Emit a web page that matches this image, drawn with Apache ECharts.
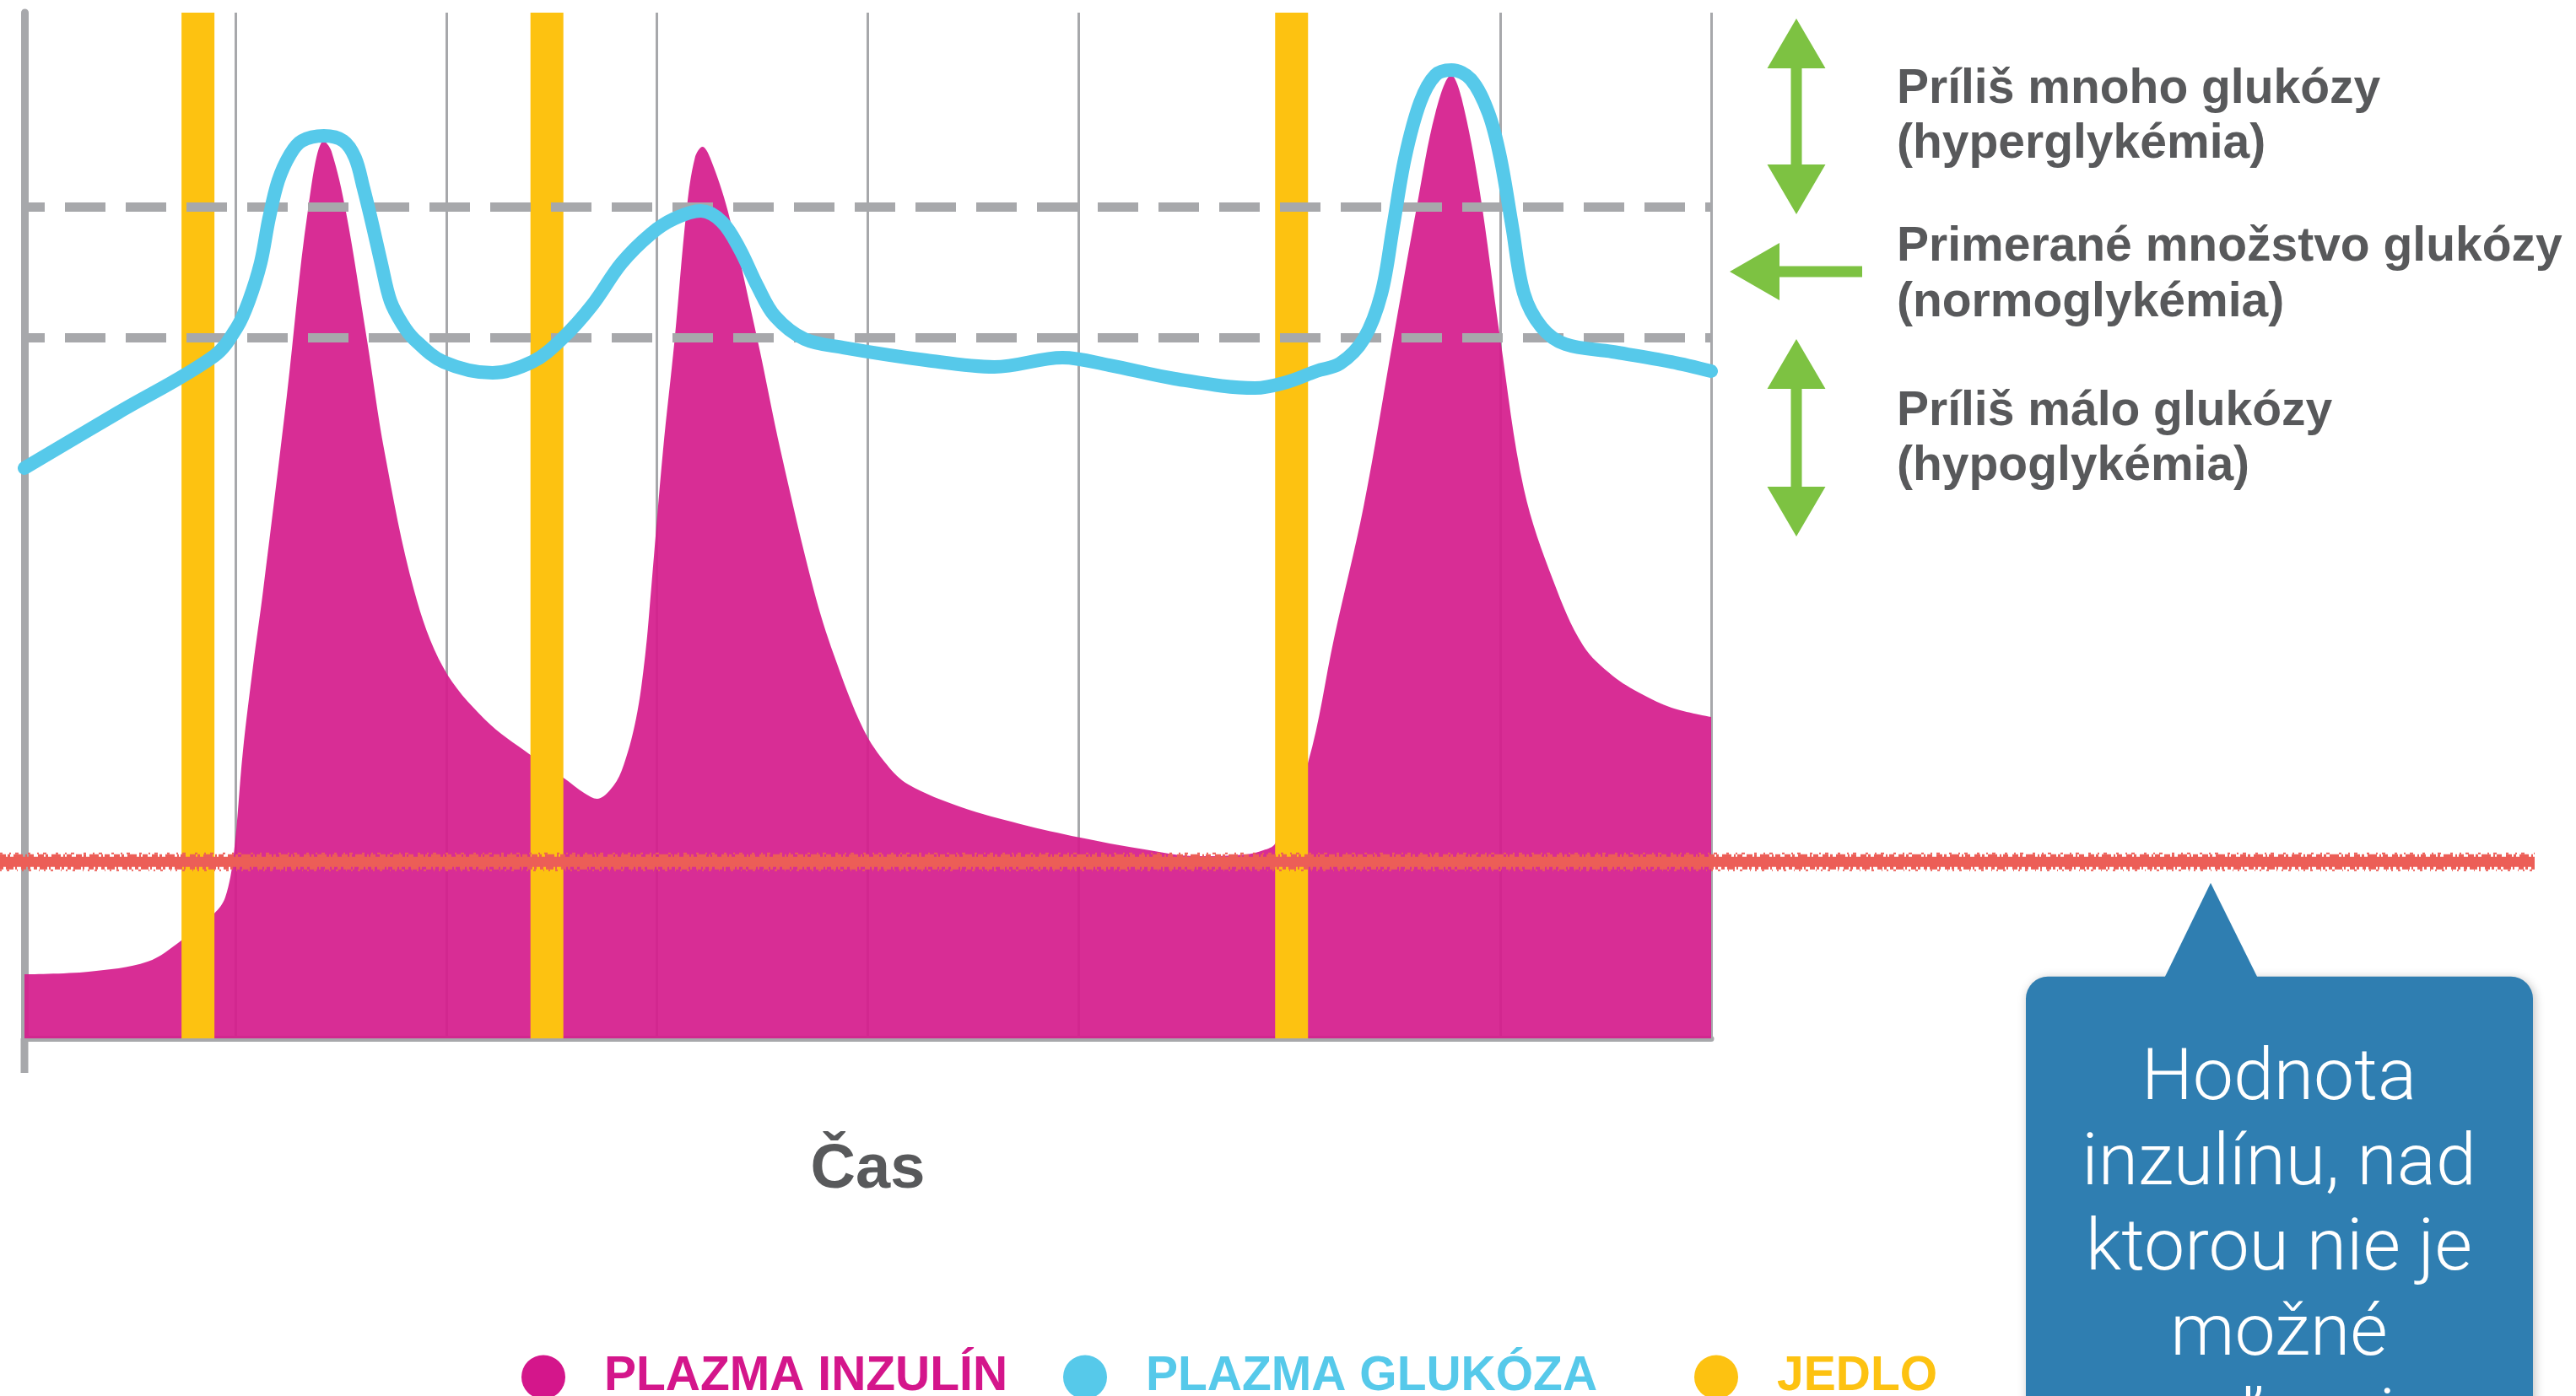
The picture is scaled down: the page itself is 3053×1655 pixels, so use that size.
<!DOCTYPE html>
<html>
<head>
<meta charset="utf-8">
<script src="https://cdn.jsdelivr.net/npm/echarts@6/dist/echarts.min.js"></script>
<style>
html,body{margin:0;padding:0;background:#ffffff;}
#chart{width:3053px;height:1655px;}
</style>
</head>
<body>
<div id="chart"></div>
<script>
// ---- data (time in arbitrary units 0..8, level in arbitrary units 0..100) ----
const xMin = 0, xMax = 8, yMin = 0, yMax = 100;
const mealTimes = [0.823, 2.478, 6.01];
const hyperLimit = 81.1;     // upper dashed line
const hypoLimit = 68.3;      // lower dashed line
const insulinLimit = 17.2;   // red threshold line

const insulinTime = [0, 0.304, 0.584, 0.744, 0.9, 0.952, 0.992, 1.036, 1.084, 1.132, 1.244, 1.344, 1.42, 1.456, 1.524, 1.624, 1.708, 1.848, 1.988, 2.184, 2.4, 2.556, 2.66, 2.716, 2.776, 2.832, 2.9, 2.944, 2.972, 3.028, 3.084, 3.14, 3.18, 3.216, 3.252, 3.336, 3.476, 3.588, 3.744, 3.84, 3.98, 4.092, 4.192, 4.444, 4.724, 5.008, 5.288, 5.568, 5.792, 5.876, 5.932, 6.088, 6.212, 6.352, 6.492, 6.604, 6.692, 6.768, 6.816, 6.9, 7.0, 7.112, 7.252, 7.392, 7.532, 7.672, 7.812, 8];
const insulinLevel = [6.25, 6.5, 7.48, 9.54, 12.17, 13.73, 17.85, 27.96, 36.27, 43.67, 62.58, 80.67, 87.5, 86.5, 80.67, 68.17, 57.15, 43.67, 36.1, 31.09, 27.63, 25.41, 23.85, 23.36, 24.18, 26.07, 31.09, 37.34, 43.67, 57.15, 68.17, 80.67, 85.86, 86.92, 85.86, 80.67, 68.17, 57.15, 43.67, 37.34, 30.1, 26.64, 24.75, 22.53, 20.89, 19.57, 18.5, 17.76, 17.93, 18.34, 19.0, 26.89, 39.06, 51.89, 68.17, 81.09, 90.21, 93.91, 91.69, 82.89, 68.17, 53.54, 44.57, 38.32, 35.36, 33.55, 32.24, 31.33];

const glucoseTime = [0, 0.444, 0.9, 1.008, 1.064, 1.12, 1.16, 1.204, 1.26, 1.316, 1.42, 1.512, 1.568, 1.608, 1.652, 1.692, 1.736, 1.792, 1.848, 1.988, 2.22, 2.408, 2.548, 2.692, 2.832, 2.972, 3.084, 3.208, 3.308, 3.392, 3.476, 3.56, 3.7, 3.884, 4.276, 4.6, 4.924, 5.148, 5.456, 5.836, 5.988, 6.128, 6.24, 6.352, 6.436, 6.492, 6.548, 6.62, 6.692, 6.768, 6.86, 6.944, 7.0, 7.056, 7.112, 7.196, 7.308, 7.532, 7.812, 8];
const glucoseLevel = [55.6, 61.0, 66.53, 69.33, 71.88, 75.58, 79.93, 83.63, 86.18, 87.5, 87.99, 87.5, 85.86, 82.89, 79.19, 75.58, 71.88, 69.65, 68.17, 65.95, 64.88, 65.95, 68.17, 71.46, 75.58, 78.45, 79.93, 80.67, 79.61, 76.97, 73.36, 70.39, 68.17, 67.35, 66.12, 65.46, 66.37, 65.62, 64.31, 63.4, 63.98, 65.05, 65.79, 68.17, 72.62, 79.19, 85.86, 91.28, 93.91, 94.41, 93.5, 90.21, 85.86, 79.19, 72.62, 69.33, 67.68, 66.94, 65.95, 65.05];

const seriesNames = ['PLAZMA INZULÍN', 'PLAZMA GLUKÓZA', 'JEDLO'];
const rangeLabels = [
  ['Príliš mnoho glukózy', '(hyperglykémia)'],
  ['Primerané množstvo glukózy', '(normoglykémia)'],
  ['Príliš málo glukózy', '(hypoglykémia)']
];
const xAxisName = 'Čas';
const calloutLines = ['Hodnota', 'inzulínu, nad', 'ktorou nie je', 'možné', 'uvoľnenie'];

// ---- styles ----
const C = {
  insulin: '#d51d8d', insulinLegend: '#d4168b',
  glucose: '#56c9ea', meal: '#fdc211', grey: '#a7a8ab',
  red: '#ec5e57', green: '#7dc242', text: '#58595b', callout: '#2f7eb1'
};
const BOLD = 'Liberation Sans, Arial, sans-serif';

const chart = echarts.init(document.getElementById('chart'), null, {renderer: 'canvas', width: 3053, height: 1655});

function legendAt(name, left, color) {
  return {
    data: [{name: name, itemStyle: {color: color}}],
    left: left, top: 1599,
    icon: 'circle', itemWidth: 52, itemHeight: 52,
    selectedMode: false,
    textStyle: {color: color, fontSize: 57, fontWeight: 'bold', fontFamily: BOLD, padding: [0, 0, 0, 41]}
  };
}

const option = {
  backgroundColor: '#ffffff',
  animation: false,
  grid: {left: 29, right: 1025, top: 15, bottom: 424, containLabel: false},
  legend: [
    legendAt(seriesNames[0], 613, C.insulinLegend),
    legendAt(seriesNames[1], 1255, C.glucose),
    legendAt(seriesNames[2], 2003, C.meal)
  ],
  xAxis: {
    type: 'value', min: xMin, max: xMax, interval: 1,
    name: xAxisName, nameLocation: 'middle', nameGap: 120,
    nameTextStyle: {color: C.text, fontSize: 74, fontWeight: 'bold', fontFamily: BOLD},
    axisLine: {show: true, onZero: false, lineStyle: {color: C.grey, width: 7}},
    axisTick: {show: false}, axisLabel: {show: false},
    splitLine: {show: true, lineStyle: {color: C.grey, width: 3}}
  },
  yAxis: {
    type: 'value', min: yMin, max: yMax,
    axisLine: {show: true, lineStyle: {color: C.grey, width: 9}},
    axisTick: {show: false}, axisLabel: {show: false}, splitLine: {show: false}
  },
  series: [
    {
      name: seriesNames[0], type: 'line', z: 2,
      data: insulinTime.map((t, i) => [t, insulinLevel[i]]),
      smooth: 0.35, showSymbol: false, symbol: 'none',
      lineStyle: {width: 0}, itemStyle: {color: C.insulinLegend},
      areaStyle: {color: C.insulin, opacity: 0.93}
    },
    {
      name: seriesNames[2], type: 'bar', z: 3,
      data: mealTimes.map(t => [t, yMax]),
      barWidth: 39, itemStyle: {color: C.meal}
    },
    {
      name: seriesNames[1], type: 'line', z: 6,
      data: glucoseTime.map((t, i) => [t, glucoseLevel[i]]),
      smooth: 0.35, showSymbol: false, symbol: 'none',
      itemStyle: {color: C.glucose},
      lineStyle: {color: C.glucose, width: 16, cap: 'round', join: 'round'},
      markLine: {
        z: 4, silent: true, symbol: ['none', 'none'], label: {show: false},
        lineStyle: {color: C.grey, width: 11, type: [48, 24], dashOffset: 24},
        emphasis: {disabled: true},
        data: [{yAxis: hyperLimit}, {yAxis: hypoLimit}]
      }
    }
  ]
};
chart.setOption(option);

// ---- annotations positioned from the axes ----
const origin = chart.convertToPixel({gridIndex: 0}, [xMin, yMin]);
const yRed = chart.convertToPixel({yAxisIndex: 0}, insulinLimit);

const g = [];
// y axis stub below the x axis
g.push({type: 'rect', z: 1, shape: {x: origin[0] - 4.5, y: origin[1], width: 9, height: 41}, style: {fill: C.grey}});

// rough red threshold line
g.push({type: 'line', z: 5, shape: {x1: 0, y1: yRed, x2: 3004, y2: yRed}, style: {stroke: C.red, lineWidth: 12}});
g.push({type: 'line', z: 5, shape: {x1: 0, y1: yRed - 7, x2: 3004, y2: yRed - 7}, style: {stroke: C.red, lineWidth: 4, lineDash: [7, 2, 3, 4, 11, 3, 2, 2, 6, 5]}});
g.push({type: 'line', z: 5, shape: {x1: 0, y1: yRed + 7, x2: 3004, y2: yRed + 7}, style: {stroke: C.red, lineWidth: 4, lineDash: [4, 3, 9, 2, 2, 5, 6, 2, 3, 4]}});
g.push({type: 'line', z: 5, shape: {x1: 0, y1: yRed + 10, x2: 3004, y2: yRed + 10}, style: {stroke: C.red, lineWidth: 2, lineDash: [2, 6, 3, 9, 1, 5]}});
g.push({type: 'line', z: 5, shape: {x1: 0, y1: yRed - 10, x2: 3004, y2: yRed - 10}, style: {stroke: C.red, lineWidth: 2, lineDash: [3, 8, 2, 5, 4, 11]}});

// green arrows
function vArrow(cx, top, bottom) {
  const hw = 34.5, hl = 59, sw = 6.5;
  return {type: 'polygon', z: 5, shape: {points: [
    [cx, top], [cx + hw, top + hl], [cx + sw, top + hl], [cx + sw, bottom - hl], [cx + hw, bottom - hl],
    [cx, bottom], [cx - hw, bottom - hl], [cx - sw, bottom - hl], [cx - sw, top + hl], [cx - hw, top + hl]
  ]}, style: {fill: C.green}};
}
g.push(vArrow(2129, 22, 254));
g.push(vArrow(2129, 402, 636));
g.push({type: 'polygon', z: 5, shape: {points: [
  [2050, 322], [2109, 288], [2109, 315.5], [2207, 315.5], [2207, 328.5], [2109, 328.5], [2109, 356]
]}, style: {fill: C.green}});

// range labels (y = text middle)
const middles = [[106, 171], [293, 359], [488, 553]];
rangeLabels.forEach((pair, i) => {
  pair.forEach((txt, j) => {
    g.push({type: 'text', z: 5, x: 2248, y: middles[i][j], style: {
      text: txt, fill: C.text, fontSize: 57, fontWeight: 'bold',
      fontFamily: BOLD, align: 'left', verticalAlign: 'middle'
    }});
  });
});

// callout box
const boxTop = yRed + 136, apexY = yRed + 25;
g.push({type: 'rect', z: 5, shape: {x: 2401, y: boxTop, width: 601, height: 700, r: 26},
  style: {fill: C.callout, shadowBlur: 12, shadowColor: 'rgba(0,0,0,0.25)', shadowOffsetX: 2, shadowOffsetY: 2}});
g.push({type: 'polygon', z: 5, shape: {points: [[2620, apexY], [2676, boxTop + 2], [2565, boxTop + 2]]},
  style: {fill: C.callout}});
calloutLines.forEach((txt, i) => {
  g.push({type: 'text', z: 6, x: 2701, y: 1281 + i * 101, style: {
    text: txt, fill: '#ffffff', fontSize: 86, fontWeight: 300,
    fontFamily: 'Roboto, Lato, sans-serif', align: 'center', verticalAlign: 'middle'
  }});
});

chart.setOption({graphic: {elements: g}});
</script>
</body>
</html>
